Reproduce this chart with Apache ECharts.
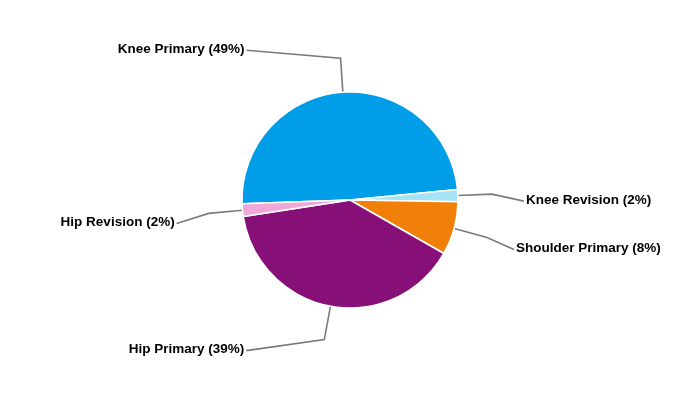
<!DOCTYPE html>
<html>
<head>
<meta charset="utf-8">
<script src="https://cdn.jsdelivr.net/npm/echarts@6/dist/echarts.min.js"></script>
<style>
html,body{margin:0;padding:0;background:#fff;}
#chart{width:700px;height:400px;}
</style>
</head>
<body>
<div id="chart"></div>
<script>
// Data
var categories = ['Knee Primary', 'Knee Revision', 'Shoulder Primary', 'Hip Primary', 'Hip Revision'];
var shares = [49.0, 1.8, 8.0, 39.3, 1.9];

// Styling (not data)
var colors = ['#009de8', '#a6e3f7', '#f08009', '#860f78', '#f0a8d8'];
// second segment of each label line: [dx, dy]
var leaderTail = [[-94, -8], [32, 7], [27, 12], [-78, 11], [-32, 10]];

var chart = echarts.init(document.getElementById('chart'), null, {renderer: 'canvas'});

var seriesData = categories.map(function (c, i) {
  return { name: c, value: shares[i], itemStyle: { color: colors[i] } };
});

chart.setOption({
  animation: false,
  backgroundColor: '#ffffff',
  series: [{
    type: 'pie',
    center: [350, 200],
    radius: [0, 108],
    startAngle: 182,
    clockwise: true,
    avoidLabelOverlap: false,
    data: seriesData,
    itemStyle: { borderColor: '#ffffff', borderWidth: 1.5 },
    emphasis: { disabled: true },
    label: {
      show: true,
      color: '#000000',
      fontFamily: '"Liberation Sans", Arial, sans-serif',
      fontWeight: 'bold',
      fontSize: 13.5,
      formatter: function (p) { return p.name + ' (' + Math.round(p.percent) + '%)'; }
    },
    labelLine: {
      show: true,
      length: 34,
      length2: 30,
      smooth: false,
      lineStyle: { color: '#7a7a7a', width: 1.6 }
    },
    labelLayout: function (params) {
      var pts = params.labelLinePoints;
      if (!pts) return {};
      var i = params.dataIndex;
      var t = leaderTail[i];
      var p0 = pts[0], p1 = pts[1];
      var end = [p1[0] + t[0], p1[1] + t[1]];
      var left = t[0] < 0;
      return {
        x: end[0] + (left ? -2 : 2),
        y: end[1] - 1,
        align: left ? 'right' : 'left',
        verticalAlign: 'middle',
        labelLinePoints: [p0, p1, end]
      };
    }
  }]
});
</script>
</body>
</html>
